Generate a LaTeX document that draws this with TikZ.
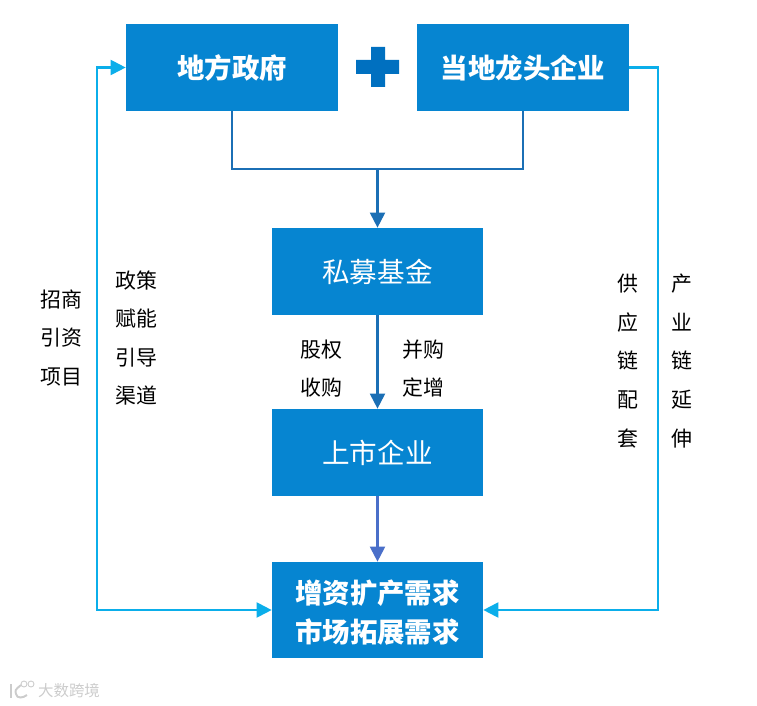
\documentclass[tikz,border=0pt]{standalone}
\usepackage{fontspec}
\setmainfont{Noto Sans CJK SC}
\usetikzlibrary{arrows.meta}
\definecolor{boxblue}{HTML}{0685D1}
\definecolor{plusblue}{HTML}{0070C0}
\definecolor{darkline}{HTML}{1B6FB5}
\definecolor{cyanline}{HTML}{0BAEEA}
\definecolor{purpleline}{HTML}{4A6FC9}
\tikzset{
	bluebox/.style={fill=boxblue, text=white, minimum width=4.22cm, minimum height=1.74cm, inner sep=0pt, align=center},
	headbox/.style={bluebox, font=\fontsize{15.6}{22.3}\selectfont\bfseries},
	plainbox/.style={bluebox, font=\fontsize{15.7}{22}\selectfont},
	sidelabel/.style={align=center, inner sep=0pt, font=\fontsize{11.9}{22}\selectfont},
	linkline/.style={line width=1.15pt},
	arrowtip/.style={-{Triangle[length=0.3cm, width=0.3cm]}},
	bothtips/.style={{Triangle[length=0.3cm, width=0.3cm]}-{Triangle[length=0.3cm, width=0.3cm]}}
}
\begin{document}
\begin{tikzpicture}[x=0.02cm, y=-0.02cm]
	\useasboundingbox (0,0) rectangle (757,706);
	%Cajas
	\node[headbox, minimum width=4.24cm] (gov) at (232,67.5) {地方政府};
	\node[headbox, minimum width=4.24cm] (lead) at (523,67.5) {当地龙头企业};
	\node[plainbox] (fund) at (377.5,271.5) {私募基金};
	\node[plainbox] (listed) at (377.5,452.5) {上市企业};
	\node[headbox, minimum height=1.92cm, text depth=0pt] (demand) at (377.5,610) {\raisebox{-1.2pt}{增资扩产需求}\\\raisebox{-1.2pt}{市场拓展需求}};
	%Mas
	\fill[plusblue] (371,47) -- (385,47) -- (385,60) -- (399,60) -- (399,74) -- (385,74) -- (385,87) -- (371,87) -- (371,74) -- (356,74) -- (356,60) -- (371,60) -- cycle;
	%Flechas centrales
	\coordinate (join) at (377.5,169);
	\draw[darkline, linkline] (gov.south) |- (join) -| (lead.south);
	\draw[darkline, linkline, arrowtip] (join) -- (fund.north);
	\draw[darkline, linkline, arrowtip] (fund.south) -- (listed.north);
	\draw[purpleline, linkline, arrowtip] (listed.south) -- (demand.north);
	%Lazos laterales
	\coordinate (leftloop) at (97,610);
	\coordinate (rightloop) at (658,610);
	\draw[cyanline, linkline, bothtips] (demand.west) -- (leftloop) |- (gov.west);
	\draw[cyanline, linkline, arrowtip] (lead.east) -| (rightloop) -- (demand.east);
	%Etiquetas
	\node[sidelabel] (invest) at (61,338) {招商\\引资\\项目};
	\node[sidelabel] (policy) at (136.5,338) {政策\\赋能\\引导\\渠道};
	\node[sidelabel] (equity) at (321,368.5) {股权\\收购};
	\node[sidelabel] (merger) at (423,368.5) {并购\\定增};
	\node[sidelabel] (supply) at (628,361) {供\\应\\链\\配\\套};
	\node[sidelabel] (chain) at (682,361) {产\\业\\链\\延\\伸};
	%Marca de agua
	\node[text=black!20, inner sep=0pt, font=\fontsize{8.8}{10}\selectfont] (mark) at (69,691) {大数跨境};
	\draw[black!20, line width=1.1pt] (11,684) -- (11,698);
	\draw[black!20, line width=1.1pt] (21,685) .. controls (15,690) .. (16,694) .. controls (17,699) and (23,698) .. (27,695);
	\draw[black!20, line width=0.5pt] (24,684) circle (3);
	\draw[black!20, line width=0.5pt] (31,684) circle (3);
\end{tikzpicture}
\end{document}
